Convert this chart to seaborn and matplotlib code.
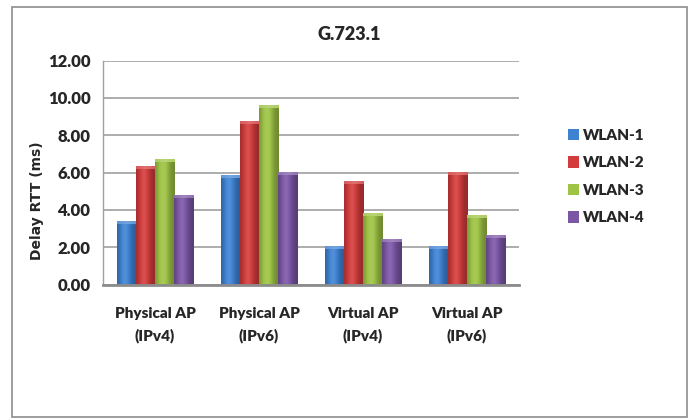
import numpy as np
import pandas as pd
import matplotlib
matplotlib.use("Agg")
import matplotlib.pyplot as plt
from matplotlib.patches import Rectangle
import seaborn as sns

categories = ["Physical AP\n(IPv4)", "Physical AP\n(IPv6)", "Virtual AP\n(IPv4)", "Virtual AP\n(IPv6)"]
series = ["WLAN-1", "WLAN-2", "WLAN-3", "WLAN-4"]
wlan1 = [3.39, 5.87, 2.07, 2.07]
wlan2 = [6.35, 8.77, 5.53, 6.03]
wlan3 = [6.74, 9.63, 3.83, 3.73]
wlan4 = [4.80, 6.03, 2.44, 2.66]
yticks = [0, 2, 4, 6, 8, 10, 12]

colors = ["#3f82d2", "#d23c3c", "#9ec345", "#7c57a6"]

df = pd.DataFrame({
    "category": np.repeat(categories, 4),
    "series": series * 4,
    "value": [v for quad in zip(wlan1, wlan2, wlan3, wlan4) for v in quad],
})

sns.set_style("white")
plt.rcParams["font.family"] = ["Lato", "DejaVu Sans"]
plt.rcParams["font.weight"] = "bold"

W, H = 689, 418
WEIGHT = "heavy"
fig = plt.figure(figsize=(W / 100, H / 100), dpi=100)
ax = fig.add_axes([103 / W, 1 - 284.5 / H, (519 - 103) / W, (284.5 - 60.7) / H])

sns.barplot(data=df, x="category", y="value", hue="series", hue_order=series,
            palette=colors, width=0.74, saturation=1, ax=ax, legend=True,
            edgecolor="none", linewidth=0)

ax.set_ylim(0, 12)
ax.set_xlim(-0.5, 3.5)
ax.set_yticks(yticks)
ax.set_yticklabels([f"{t:.2f}" for t in yticks], fontsize=12, fontweight=WEIGHT)
ax.set_xticks(range(len(categories)))
ax.set_xticklabels(categories, fontsize=11, fontweight=WEIGHT, linespacing=1.75)
ax.set_xlabel("")
ax.set_ylabel("")

ax.grid(axis="y", color="#a0a0a0", linewidth=1.2)
ax.set_axisbelow(True)
for s in ["top", "right"]:
    ax.spines[s].set_visible(False)
ax.spines["left"].set_color("#a0a0a0")
ax.spines["left"].set_linewidth(1.0)
ax.spines["bottom"].set_color("#8c8c8c")
ax.spines["bottom"].set_linewidth(2.0)
ax.tick_params(axis="y", length=4, width=1, color="#a0a0a0", pad=5)
ax.tick_params(axis="x", length=0, pad=16)


def shade(base, factor):
    base = np.asarray(matplotlib.colors.to_rgb(base))
    if factor >= 1:
        return base + (1 - base) * (factor - 1)
    return base * factor


# Bevelled gradient fill on each bar, clipped to the bar shape
px_per_unit = (284.5 - 60.7) / 12
bars = [p for p in ax.patches if p.get_height() > 0]
for bar in bars:
    x0, w, h = bar.get_x(), bar.get_width(), bar.get_height()
    base = bar.get_facecolor()[:3]
    nx = 40
    ny = max(int(round(h * px_per_unit)), 4)
    u = np.linspace(0, 1, nx)
    prof = 0.70 + 0.40 * np.exp(-((u - 0.4) / 0.32) ** 2)
    img = np.zeros((ny, nx, 3))
    for i, f in enumerate(prof):
        img[:, i, :] = shade(base, f)
    cap = min(4, ny)
    for r in range(cap):
        for i in range(nx):
            img[r, i, :] = shade(base, 1.15 + 0.12 * (1 - abs(u[i] - 0.5) * 2))
    img = np.clip(img, 0, 1)
    im = ax.imshow(img, extent=(x0, x0 + w, 0, h), origin="upper",
                   aspect="auto", interpolation="bilinear", zorder=bar.get_zorder() + 0.1)
    im.set_clip_path(bar)
ax.set_xlim(-0.5, 3.5)
ax.set_ylim(0, 12)

leg = ax.legend(loc="center left", bbox_to_anchor=(568 / W, 1 - 176.5 / H),
                bbox_transform=fig.transFigure, frameon=False, fontsize=11,
                handlelength=0.75, handleheight=0.75, handletextpad=0.25,
                labelspacing=0.95, borderpad=0, borderaxespad=0, title=None)
for t in leg.get_texts():
    t.set_fontweight(WEIGHT)

fig.text(349 / W, 1 - 35 / H, "G.723.1", ha="center", va="center",
         fontsize=13, fontweight=WEIGHT)
fig.text(37 / W, 1 - 201 / H, "Delay RTT (ms)", ha="center", va="center",
         rotation=90, fontsize=10, fontweight="bold", family=["DejaVu Sans"])

fig.patches.append(Rectangle((12 / W, 1 - 417 / H), 675 / W, 410 / H,
                             transform=fig.transFigure, fill=False,
                             edgecolor="#8c8c8c", linewidth=1.2))

fig.savefig("out.png", dpi=100, facecolor="white")
